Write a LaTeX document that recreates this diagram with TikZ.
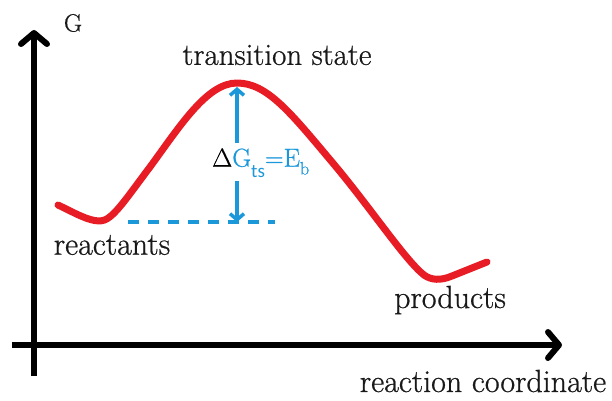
\documentclass[tikz,border=0pt]{standalone}
\usepackage{fontspec}
\newfontfamily\serifx{Latin Modern Roman}[FakeBold=0.7]
\newfontfamily\subsans{Carlito}
\usetikzlibrary{arrows.meta}
\definecolor{curvered}{RGB}{232,28,36}
\definecolor{lblblue}{RGB}{27,152,218}
\tikzset{
  axis/.style={line width=6pt, -{Straight Barb[length=11pt,width=26pt,line cap=round,line join=round]}},
  energy/.style={line width=7pt, draw=curvered, line cap=round, line join=round},
  barrier/.style={line width=3.5pt, draw=lblblue, -{Straight Barb[length=6pt,width=14pt]}},
  baseline/.style={line width=3.5pt, draw=lblblue, dash pattern=on 11pt off 9pt},
  lbl/.style={inner sep=0pt, font=\serifx\fontsize{32}{32}\selectfont, text=black!90}
}
\begin{document}
\begin{tikzpicture}[x=1pt,y=-1pt]
\useasboundingbox (0,0) rectangle (612,400);
% axes
\coordinate (ybot) at (34,376);
\coordinate (ytop) at (34,30);
\coordinate (xleft) at (12,345);
\coordinate (xright) at (562,345);
\draw[axis] (ybot) -- (ytop);
\draw[axis] (xleft) -- (xright);
% labels
\node[lbl, font=\serifx\fontsize{25}{25}\selectfont] (G) at (73,23) {G};
\node[lbl, font=\serifx\fontsize{31}{31}\selectfont] (ts) at (277,55) {transition state};
\node[lbl] (react) at (112,245) {reactants};
\node[lbl] (prod) at (450,300) {products};
\node[lbl] (rc) at (483,381) {reaction coordinate};
% energy curve
\coordinate (start) at (58,205);
\coordinate (rmin) at (100,221);
\coordinate (peak) at (237,83);
\coordinate (pmin) at (437,279);
\coordinate (pend) at (487,262);
\draw[energy] (start) .. controls (75,213) and (88,221) .. (rmin)
  .. controls (112,221) and (125,200) .. (150,167)
  .. controls (180,126) and (207,83) .. (peak)
  .. controls (267,83) and (290,112) .. (332,162)
  .. controls (370,207) and (405,260) .. (424,275)
  .. controls (431,280) and (440,281) .. (452,276)
  -- (pend);
% barrier
\coordinate (rlevel) at (237,222);
\coordinate (dashL) at (128,222);
\coordinate (dashR) at (275,222);
\draw[baseline] (dashL) -- (dashR);
\node[inner sep=0pt, anchor=west, font=\serifx\fontsize{26}{26}\selectfont, text=lblblue] (dg) at (212,163)
  {{\color{black}Δ}G\raisebox{-0.42em}{\subsans\fontsize{19}{19}\selectfont ts}=E\raisebox{-0.3em}{\fontsize{18}{18}\selectfont b}};
\coordinate (upstart) at (237,143);
\coordinate (downstart) at (237,181);
\draw[barrier] (upstart) -- (237,87);
\draw[barrier] (downstart) -- (rlevel);
\end{tikzpicture}
\end{document}
